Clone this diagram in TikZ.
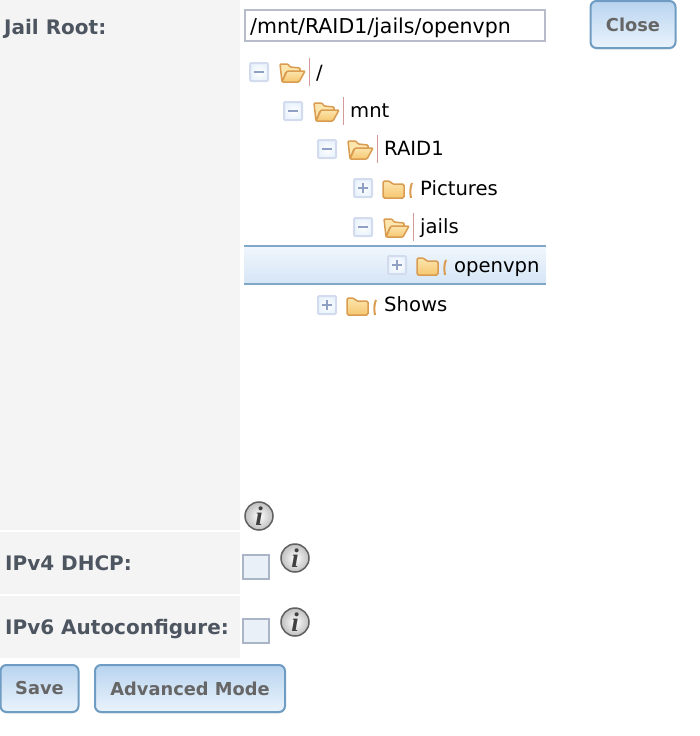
\documentclass[tikz,border=0pt]{standalone}
\usepackage{fontspec}
\setmainfont{DejaVu Sans}
\newfontfamily\infofont{Liberation Serif}
\usetikzlibrary{shadows}

\definecolor{panelgray}{HTML}{F4F4F4}
\definecolor{labelgray}{HTML}{4D5560}
\definecolor{buttongray}{HTML}{666666}
\definecolor{buttonedge}{HTML}{6F9CC2}
\definecolor{buttontop}{HTML}{B9D4EF}
\definecolor{buttonlow}{HTML}{EAF3FC}
\definecolor{boxedge}{HTML}{B7BCCB}
\definecolor{signblue}{HTML}{8FA0C4}
\definecolor{expanderedge}{HTML}{D3DCEE}
\definecolor{checkedge}{HTML}{AAB6C6}
\definecolor{checkfill}{HTML}{E9F0F8}
\definecolor{rowedge}{HTML}{7FA7C8}
\definecolor{folderedge}{HTML}{D99C50}
\definecolor{foldertop}{HTML}{FCE6AE}
\definecolor{folderlow}{HTML}{F6C670}
\definecolor{treeline}{HTML}{D49A9A}

\tikzset{
	fieldlabel/.style={anchor=base west, inner sep=0pt, text=labelgray, font=\fontsize{20}{22}\selectfont\bfseries},
	treelabel/.style={anchor=base west, inner sep=0pt, text=black, font=\fontsize{19.6}{22}\selectfont},
	webbutton/.style={draw=buttonedge, line width=2pt, rounded corners=6pt, top color=buttontop, bottom color=buttonlow,
		inner sep=0pt, text=buttongray, minimum height=47pt, font=\fontsize{17.8}{20}\selectfont\bfseries,
		drop shadow={opacity=0.18, shadow xshift=0pt, shadow yshift=-1.5pt}},
	infoicon/.style={circle, draw=gray!75!black, line width=1.5pt, inner color=white, outer color=gray!50, minimum size=28pt, inner sep=0pt,
		text=black!75, font=\fontsize{27}{27}\selectfont\infofont\bfseries\itshape},
	checkbox/.style={draw=checkedge, line width=2pt, fill=checkfill, minimum width=26pt, minimum height=24pt, inner sep=0pt},
	expander/.pic={
		\draw[draw=expanderedge, line width=2pt, rounded corners=1pt, inner color=white, outer color=buttonlow] (-9, -9) rectangle (9, 9);
		\draw[color=signblue, line width=2.2pt] (-5, 0) -- (5, 0);
	},
	plusbar/.pic={
		\draw[color=signblue, line width=2.2pt] (0, -5) -- (0, 5);
	},
	folderopen/.pic={
		\draw[folderedge, line width=1.5pt, fill=foldertop, rounded corners=1pt] (-10, 10) -- (-12, -8) -- (-4, -8) -- (-2, -5) -- (8, -4) -- (8, 0) -- (-6, 0) -- cycle;
		\draw[folderedge, line width=1.5pt, top color=foldertop, bottom color=folderlow, rounded corners=1pt] (-10, 10) -- (-5, -1) -- (13, -1) -- (7, 10) -- cycle;
		\draw[treeline, line width=1pt] (17, -14) -- (17, 14);
	},
	folderclosed/.pic={
		\draw[folderedge, line width=1.5pt, top color=foldertop, bottom color=folderlow, rounded corners=1.5pt] (-13, -7) -- (-6, -7) -- (-4, -4) -- (8, -4) -- (8, 10) -- (-13, 10) -- cycle;
		\draw[folderedge, line width=2pt] (16, -5) .. controls (14, -1) and (14, 5) .. (15, 10);
	},
}

\begin{document}
\begin{tikzpicture}[x=1pt, y=-1pt]
	\useasboundingbox (0, 0) rectangle (700, 736);

	% left column
	\fill[panelgray] (0, 0) rectangle (240, 530);
	\fill[panelgray] (0, 532) rectangle (240, 594);
	\fill[panelgray] (0, 596) rectangle (240, 658);

	\node[fieldlabel] (jailroot) at (4, 34) {Jail Root:};
	\node[fieldlabel] (ipvfour) at (5, 570) {IPv4 DHCP:};
	\node[fieldlabel] (ipvsix) at (5, 634) {IPv6 Autoconfigure:};

	% path field
	\node[draw=boxedge, line width=2pt, minimum width=300pt, minimum height=31pt, inner sep=0pt] (pathbox) at (395, 25.5) {};
	\node[treelabel, font=\fontsize{20.5}{22}\selectfont] (pathtext) at (250, 33) {/mnt/RAID1/jails/openvpn};
	\node[webbutton, minimum width=85pt] (close) at (633, 24.5) {Close};

	% selected row
	\shade[top color=buttonlow!70!white, bottom color=buttontop!60!white] (244, 246) rectangle (546, 284);
	\draw[rowedge, line width=2pt] (244, 246) -- (546, 246);
	\draw[rowedge, line width=2pt] (244, 284) -- (546, 284);

	% tree rows
	\foreach \rowx/\rowy/\basey/\foldertype/\rowname in {
		259/72/79/open/{/},
		293/111/117/open/mnt,
		327/149/155/open/RAID1,
		363/188/195/closed/Pictures,
		363/227/233/open/jails,
		397/265/272/closed/openvpn,
		327/305/311/closed/Shows}
	{
		\pic at (\rowx, \rowy) {expander};
		\pic at (\rowx + 33, \rowy) {folder\foldertype};
		\node[treelabel] (row\rowy) at (\rowx + 57, \basey) {\rowname};
	}
	\foreach \rowx/\rowy in {363/188, 397/265, 327/305}
		\pic at (\rowx, \rowy) {plusbar};

	% info marks and check boxes
	\node[infoicon] (infojail) at (259, 516) {i};
	\node[infoicon] (infofour) at (295, 558) {i};
	\node[infoicon] (infosix) at (295, 622) {i};
	\node[checkbox] (checkfour) at (256, 567) {};
	\node[checkbox] (checksix) at (256, 631) {};

	% buttons
	\node[webbutton, minimum width=78pt] (save) at (39.5, 688.5) {Save};
	\node[webbutton, minimum width=190pt] (advanced) at (190, 688.5) {Advanced Mode};
\end{tikzpicture}
\end{document}
